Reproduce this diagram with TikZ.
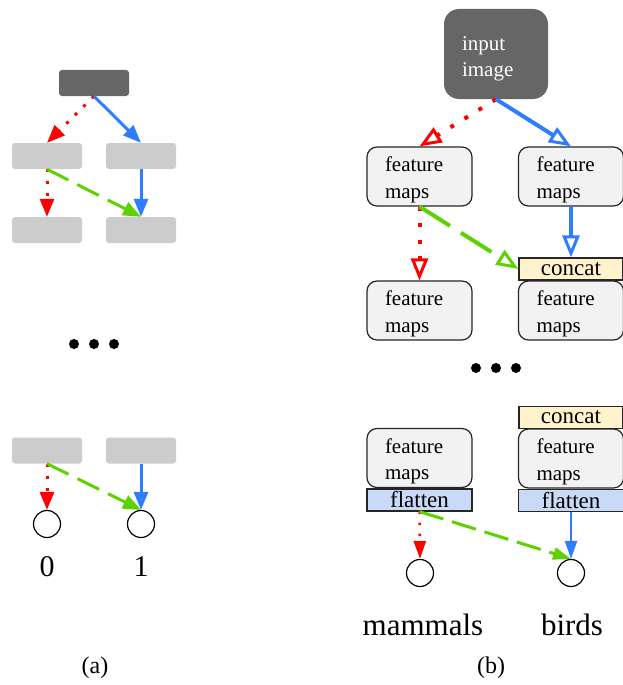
\documentclass[tikz,border=0pt]{standalone}
\usepackage{fontspec}
\setmainfont{Liberation Serif}
\usetikzlibrary{arrows.meta}
\definecolor{cred}{HTML}{FF0000}
\definecolor{cblue}{HTML}{2F7DFF}
\definecolor{cgreen}{HTML}{5CD300}
\definecolor{cdark}{HTML}{666666}
\definecolor{cgray}{HTML}{CCCCCC}
\definecolor{cfm}{HTML}{F2F2F2}
\definecolor{cyel}{HTML}{FFF2CC}
\definecolor{clblue}{HTML}{C9DAF8}
\newcommand\fmstrut{\rule{0pt}{21pt}}
\tikzset{
  gbox/.style={rectangle, rounded corners=3pt, fill=cgray, minimum width=70pt, minimum height=26pt, inner sep=0pt},
  dbox/.style={rectangle, rounded corners=3pt, fill=cdark, minimum width=70pt, minimum height=26pt, inner sep=0pt},
  fmbox/.style={rectangle, rounded corners=10pt, draw=black!85, line width=1.2pt, fill=cfm, minimum width=105pt, minimum height=59pt, inner xsep=18pt, inner ysep=0pt, text width=69pt, align=left, font=\fontsize{21}{26.5}\selectfont},
  catbox/.style={rectangle, draw=black!85, line width=1.2pt, fill=cyel, minimum width=104pt, minimum height=22pt, inner sep=0pt, text depth=0pt, font=\fontsize{23}{23}\selectfont},
  flbox/.style={rectangle, draw=black!85, line width=1.2pt, fill=clblue, minimum width=105pt, minimum height=22pt, inner sep=0pt, font=\fontsize{23}{23}\selectfont},
  outc/.style={circle, draw=black, line width=1.2pt, minimum size=27pt, inner sep=0pt},
  bigdot/.style={circle, fill=black, minimum size=10pt, inner sep=0pt},
  tipA/.style={-{Triangle[length=18pt, width=14pt]}},
  tipB/.style={-{Triangle[open, length=22pt, width=17pt, line width=3pt]}},
  tipC/.style={-{Triangle[length=18pt, width=12pt]}},
  redA/.style={draw=cred, line width=3pt, dash pattern=on 3pt off 9pt, tipA},
  blueA/.style={draw=cblue, line width=3pt, tipA},
  greenA/.style={draw=cgreen, line width=3pt, dash pattern=on 24pt off 10pt, tipA},
  redB/.style={draw=cred, line width=4pt, dash pattern=on 4pt off 12.5pt, tipB},
  blueB/.style={draw=cblue, line width=4pt, tipB},
  greenB/.style={draw=cgreen, line width=4pt, dash pattern=on 36pt off 13pt, tipB},
  redC/.style={draw=cred, line width=2.5pt, dash pattern=on 2.5pt off 8.5pt, tipC},
  blueC/.style={draw=cblue, line width=2.5pt, tipC},
  greenC/.style={draw=cgreen, line width=3pt, dash pattern=on 25pt off 9pt, tipC},
  lbl/.style={font=\fontsize{30}{30}\selectfont, anchor=base, inner sep=0pt},
  captxt/.style={font=\fontsize{24}{24}\selectfont, anchor=base, inner sep=0pt},
}
\begin{document}
\begin{tikzpicture}[x=1pt, y=-1pt]
\useasboundingbox (0,0) rectangle (623,685);
% ---------- (a) ----------
\node[dbox] (atop) at (94,83) {};
\node[gbox] (a11) at (47,156) {};
\node[gbox] (a12) at (141,156) {};
\node[gbox] (a21) at (47,230) {};
\node[gbox] (a22) at (141,230) {};
\node[bigdot] (ad1) at (74,344) {};
\node[bigdot] (ad2) at (94,344) {};
\node[bigdot] (ad3) at (114,344) {};
\node[gbox] (a31) at (47,450.5) {};
\node[gbox] (a32) at (141,450.5) {};
\node[outc] (ao0) at (47,524) {};
\node[outc] (ao1) at (141,524) {};
\node[lbl] (al0) at (47,576) {0};
\node[lbl] (al1) at (141,576) {1};
\node[captxt] (acap) at (95,673) {(a)};
\draw[redA] (atop.south) -- (a11.north);
\draw[blueA] (atop.south) -- (a12.north);
\draw[redA] (a11.south) -- (a21.north);
\draw[blueA] (a12.south) -- (a22.north);
\draw[greenA] (a11.south) -- (a22.north);
\draw[redA] (a31.south) -- (ao0.north);
\draw[blueA] (a32.south) -- (ao1.north);
\draw[greenA] (a31.south) -- (ao1.north);
% ---------- (b) ----------
\node[rectangle, rounded corners=15pt, fill=cdark, minimum width=104pt, minimum height=90pt, inner xsep=18pt, text width=68pt, align=left, text=white, font=\fontsize{21}{26}\selectfont] (inp) at (496,54) {\rule{0pt}{23pt}input\\image};
\node[fmbox] (f11) at (419.5,176.5) {\fmstrut feature\\maps};
\node[fmbox] (f12) at (571,176.5) {\fmstrut feature\\maps};
\node[catbox] (c1) at (571,269) {concat};
\node[fmbox] (f21) at (419.5,310.5) {\fmstrut feature\\maps};
\node[fmbox] (f22) at (571,310.5) {\fmstrut feature\\maps};
\node[bigdot] (bd1) at (476,368) {};
\node[bigdot] (bd2) at (496,368) {};
\node[bigdot] (bd3) at (516,368) {};
\node[catbox] (c2) at (571,417.5) {concat};
\node[fmbox] (f31) at (419.5,458) {\fmstrut feature\\maps};
\node[fmbox] (f32) at (571,458.5) {\fmstrut feature\\maps};
\node[flbox] (fl1) at (419.5,500) {flatten};
\node[flbox] (fl2) at (571,500.5) {flatten};
\node[outc] (bo0) at (420,573) {};
\node[outc] (bo1) at (571,573) {};
\node[lbl, font=\fontsize{31}{31}\selectfont] (bl0) at (423,635) {mammals};
\node[lbl, font=\fontsize{31}{31}\selectfont] (bl1) at (572,635) {birds};
\node[captxt] (bcap) at (491,673) {(b)};
\draw[redB] (inp.south) -- (f11.north);
\draw[blueB] (inp.south) -- (f12.north);
\draw[redB] (f11.south) -- (f21.north);
\draw[blueB] (f12.south) -- (c1.north);
\draw[greenB] (f11.south) -- (c1.west);
\draw[redC] (fl1.south) -- (bo0.north);
\draw[blueC] (fl2.south) -- (bo1.north);
\draw[greenC] (fl1.south) -- (bo1.north);
\end{tikzpicture}
\end{document}
